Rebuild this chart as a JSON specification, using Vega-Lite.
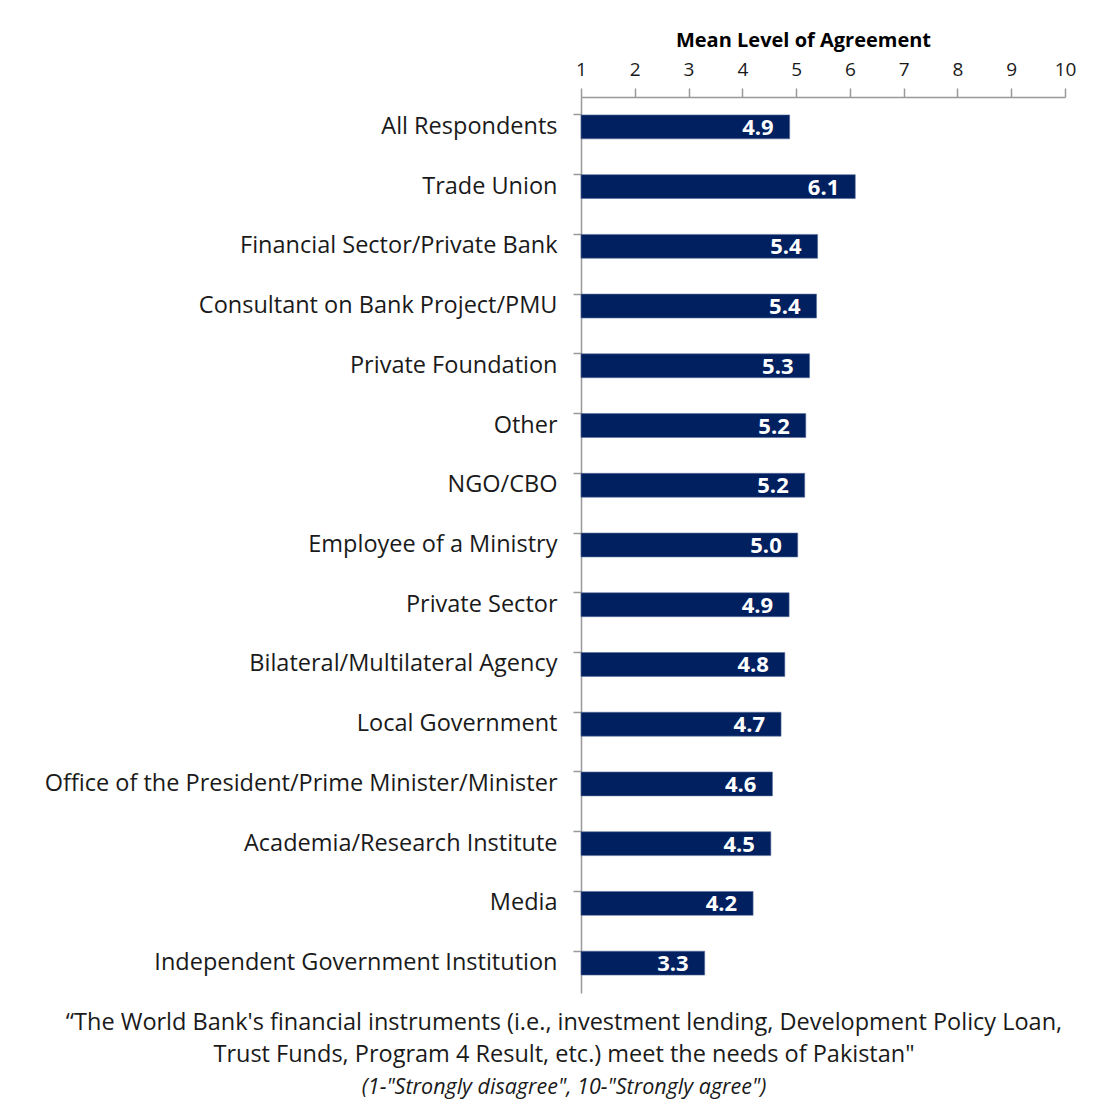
{
  "$schema": "https://vega.github.io/schema/vega-lite/v6.json",
  "autosize": {"type": "none"},
  "padding": {"left": 581, "top": 97, "right": 42, "bottom": 122},
  "width": 484,
  "height": 896,
  "background": "white",
  "title": {
    "text": ["“The World Bank's financial instruments (i.e., investment lending, Development Policy Loan,", "Trust Funds, Program 4 Result, etc.) meet the needs of Pakistan\""],
    "subtitle": "(1-\"Strongly disagree\", 10-\"Strongly agree\")",
    "orient": "bottom",
    "anchor": "middle",
    "frame": "group",
    "dx": -259,
    "offset": 18,
    "font": "Open Sans",
    "fontSize": 23.5,
    "fontWeight": "normal",
    "color": "#1a1a1a",
    "lineHeight": 32,
    "subtitleFont": "Open Sans",
    "subtitleFontSize": 21.5,
    "subtitleFontStyle": "italic",
    "subtitleColor": "#1a1a1a",
    "subtitlePadding": 10
  },
  "data": {
    "values": [
      {"group": "All Respondents", "mean": 4.88, "label": "4.9"},
      {"group": "Trade Union", "mean": 6.1, "label": "6.1"},
      {"group": "Financial Sector/Private Bank", "mean": 5.4, "label": "5.4"},
      {"group": "Consultant on Bank Project/PMU", "mean": 5.38, "label": "5.4"},
      {"group": "Private Foundation", "mean": 5.25, "label": "5.3"},
      {"group": "Other", "mean": 5.18, "label": "5.2"},
      {"group": "NGO/CBO", "mean": 5.16, "label": "5.2"},
      {"group": "Employee of a Ministry", "mean": 5.03, "label": "5.0"},
      {"group": "Private Sector", "mean": 4.87, "label": "4.9"},
      {"group": "Bilateral/Multilateral Agency", "mean": 4.79, "label": "4.8"},
      {"group": "Local Government", "mean": 4.72, "label": "4.7"},
      {"group": "Office of the President/Prime Minister/Minister", "mean": 4.56, "label": "4.6"},
      {"group": "Academia/Research Institute", "mean": 4.53, "label": "4.5"},
      {"group": "Media", "mean": 4.2, "label": "4.2"},
      {"group": "Independent Government Institution", "mean": 3.3, "label": "3.3"}
    ]
  },
  "encoding": {
    "y": {
      "field": "group",
      "type": "nominal",
      "sort": null,
      "scale": {"paddingInner": 0.6, "paddingOuter": 0.3},
      "axis": {
        "title": null,
        "bandPosition": 0,
        "labelFont": "Open Sans",
        "labelFontSize": 23.5,
        "labelColor": "#1a1a1a",
        "labelPadding": 16,
        "labelLimit": 600,
        "tickSize": 8,
        "tickColor": "#999",
        "domainColor": "#999",
        "domainWidth": 1.5,
        "tickWidth": 1.5
      }
    }
  },
  "layer": [
    {
      "mark": {"type": "bar", "color": "#002060", "stroke": "#5a6f9a", "strokeWidth": 0.6},
      "encoding": {
        "x": {
          "field": "mean",
          "type": "quantitative",
          "scale": {"domain": [1, 10], "nice": false, "zero": false},
          "axis": {
            "orient": "top",
            "title": "Mean Level of Agreement",
            "titleFont": "Open Sans",
            "titleFontSize": 20,
            "titleFontWeight": "bold",
            "titleColor": "#000",
            "titlePadding": 10,
            "titleX": 222,
            "values": [1, 2, 3, 4, 5, 6, 7, 8, 9, 10],
            "format": "d",
            "grid": false,
            "labelFont": "Open Sans",
            "labelFontSize": 19,
            "labelColor": "#1a1a1a",
            "labelPadding": 9,
            "labelFlush": false,
            "tickSize": 9,
            "tickColor": "#999",
            "tickWidth": 1.5,
            "domainColor": "#999",
            "domainWidth": 1.5
          }
        },
        "x2": {"datum": 1}
      }
    },
    {
      "mark": {"type": "text", "align": "right", "baseline": "middle", "dx": -16, "dy": 1, "color": "white", "font": "Open Sans", "fontWeight": "bold", "fontSize": 22},
      "encoding": {
        "x": {"field": "mean", "type": "quantitative"},
        "text": {"field": "label"}
      }
    }
  ],
  "config": {"view": {"stroke": null}}
}
